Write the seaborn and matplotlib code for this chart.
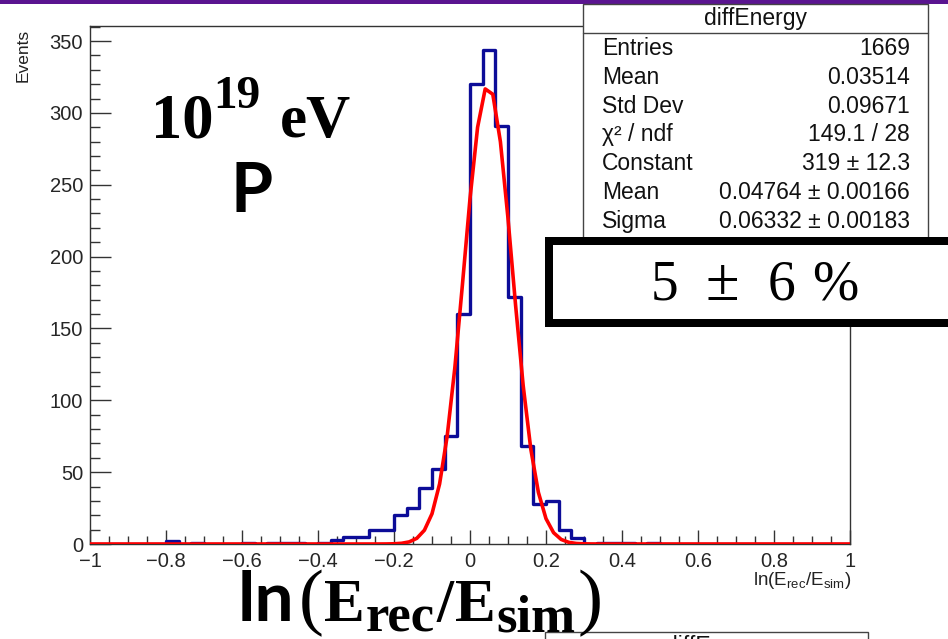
import numpy as np
import pandas as pd
import matplotlib
matplotlib.use("Agg")
import matplotlib.pyplot as plt
import seaborn as sns
from matplotlib.patches import Rectangle
from matplotlib.lines import Line2D
from matplotlib.ticker import MultipleLocator, FixedLocator, FixedFormatter

# ---------------- data ----------------
x_range = (-1.0, 1.0)
n_bins = 60
counts = [0, 0, 0, 0, 0, 0, 2, 0, 1, 0,
          0, 0, 1, 0, 1, 1, 1, 0, 1, 3,
          5, 5, 10, 10, 20, 25, 39, 52, 75, 160,
          320, 344, 291, 172, 68, 28, 30, 10, 4, 0,
          1, 1, 1, 0, 1, 0, 0, 0, 0, 0,
          0, 0, 0, 0, 0, 0, 0, 0, 0, 0]

fit_constant = 319.0
fit_mean = 0.04764
fit_sigma = 0.06332
fit_npx = 100

xtick_vals = [-1, -0.8, -0.6, -0.4, -0.2, 0, 0.2, 0.4, 0.6, 0.8, 1]
xtick_labels = ["\u22121", "\u22120.8", "\u22120.6", "\u22120.4", "\u22120.2",
                "0", "0.2", "0.4", "0.6", "0.8", "1"]
ytick_vals = [0, 50, 100, 150, 200, 250, 300, 350]

stats_title = "diffEnergy"
stat_labels = ["Entries", "Mean", "Std Dev", "\u03c7\u00b2 / ndf", "Constant", "Mean", "Sigma"]
stat_values = ["1669", "0.03514", "0.09671", "149.1 / 28", "319 \u00b1 12.3",
               "0.04764 \u00b1 0.00166", "0.06332 \u00b1 0.00183"]

resolution_parts = ["5", "\u00b1", "6", "%"]

# ---------------- style ----------------
sns.set_theme(style="white")
plt.rcParams["font.family"] = ["Liberation Sans", "DejaVu Sans"]
plt.rcParams["mathtext.fontset"] = "custom"
plt.rcParams["mathtext.rm"] = "Liberation Sans"
plt.rcParams["mathtext.it"] = "Liberation Sans:italic"
plt.rcParams["mathtext.bf"] = "Liberation Sans:bold"

W, H = 948, 639
fig = plt.figure(figsize=(W / 100, H / 100), dpi=100)
fig.patch.set_facecolor("white")

def fx(px):
    return px / W

def fy(py):
    return 1 - py / H

ax_l, ax_r, ax_t, ax_b = 90, 850, 26, 544
ax = fig.add_axes([fx(ax_l), fy(ax_b), (ax_r - ax_l) / W, (ax_b - ax_t) / H])
ax.set_facecolor("white")

bin_w = (x_range[1] - x_range[0]) / n_bins
centers = x_range[0] + bin_w * (np.arange(n_bins) + 0.5)
df = pd.DataFrame({"x": centers, "w": np.asarray(counts, dtype=float)})
sns.histplot(data=df, x="x", weights="w", bins=n_bins, binrange=x_range,
             element="step", fill=False, color="#0c0c98", linewidth=2.4, ax=ax, zorder=2)

fit_x = np.linspace(x_range[0], x_range[1], fit_npx + 1)
fit_y = fit_constant * np.exp(-0.5 * ((fit_x - fit_mean) / fit_sigma) ** 2)
sns.lineplot(x=fit_x, y=fit_y, color="#ff0000", linewidth=2.6, ax=ax, sort=False, zorder=3)

ax.set_xlim(x_range)
ax.set_ylim(0, (ax_b - ax_t) / 1.437)
ax.set_xlabel("")
ax.set_ylabel("")

ax.xaxis.set_major_locator(FixedLocator(xtick_vals))
ax.xaxis.set_major_formatter(FixedFormatter(xtick_labels))
ax.xaxis.set_minor_locator(MultipleLocator(0.05))
ax.yaxis.set_major_locator(FixedLocator(ytick_vals))
ax.yaxis.set_minor_locator(MultipleLocator(10))

ax.tick_params(axis="x", which="major", direction="in", length=10, width=1.0,
               color="#333333", labelsize=14.5, pad=6, bottom=True, top=False)
ax.tick_params(axis="x", which="minor", direction="in", length=5.5, width=1.0,
               color="#333333", bottom=True, top=False)
ax.tick_params(axis="y", which="major", direction="in", length=15, width=1.0,
               color="#333333", labelsize=14.5, pad=5, left=True, right=False)
ax.tick_params(axis="y", which="minor", direction="in", length=7.5, width=1.0,
               color="#333333", left=True, right=False)
for s in ax.spines.values():
    s.set_visible(True)
    s.set_color("#333333")
    s.set_linewidth(1.0)

# axis titles (ROOT style)
fig.text(fx(23), fy(55), "Events", rotation=90, ha="center", va="center", fontsize=12.5,
         color="#222222")
fig.text(fx(851), fy(585), r"ln(E$_{\mathrm{rec}}$/E$_{\mathrm{sim}}$)", ha="right",
         va="baseline", fontsize=13.5, color="#222222")

# purple bar on top
fig.add_artist(Rectangle((0, fy(3.5)), 1, 3.5 / H, transform=fig.transFigure,
                         facecolor="#5a1490", edgecolor="none", zorder=5))

# stats box
sb_l, sb_r, sb_t, sb_b = 583, 928, 3.5, 245
fig.add_artist(Rectangle((fx(sb_l), fy(sb_b)), (sb_r - sb_l) / W, (sb_b - sb_t) / H,
                         transform=fig.transFigure, facecolor="white",
                         edgecolor="#444444", linewidth=1.0, zorder=6))
fig.add_artist(Line2D([fx(sb_l), fx(sb_r)], [fy(33), fy(33)], transform=fig.transFigure,
                      color="#444444", linewidth=1.0, zorder=7))
fig.text(fx((sb_l + sb_r) / 2), fy(25.5), stats_title, ha="center", va="baseline",
         fontsize=16.5, color="#111111", zorder=8)
for i, (lab, val) in enumerate(zip(stat_labels, stat_values)):
    yb = 55 + 28.8 * i
    fig.text(fx(602), fy(yb), lab, ha="left", va="baseline", fontsize=16.5,
             color="#111111", zorder=8)
    fig.text(fx(910), fy(yb), val, ha="right", va="baseline", fontsize=16.5,
             color="#111111", zorder=8)

# big annotation box "5 ± 6 %"
serif = ["Liberation Serif", "DejaVu Serif"]
bw = 8
fig.add_artist(Rectangle((fx(545 + bw / 2), fy(327 - bw / 2)), (1000 - 545) / W,
                         (327 - 237 - bw) / H, transform=fig.transFigure,
                         facecolor="white", edgecolor="black", linewidth=bw * 0.72,
                         zorder=9))
for part, cx, fs in zip(resolution_parts, [664, 722, 782, 835], [40, 44, 40, 40]):
    fig.text(fx(cx), fy(300), part, ha="center", va="baseline", fontsize=fs,
             family=serif, color="black", zorder=10)

# "10^19 eV" and "P"
fig.text(fx(151), fy(137), "10", ha="left", va="baseline", fontsize=45,
         weight="bold", family=serif, color="black", zorder=10)
fig.text(fx(213), fy(108), "19", ha="left", va="baseline", fontsize=34,
         weight="bold", family=serif, color="black", zorder=10)
fig.text(fx(280), fy(137), "eV", ha="left", va="baseline", fontsize=44,
         weight="bold", family=serif, color="black", zorder=10)
fig.text(fx(252), fy(212), "P", ha="center", va="baseline", fontsize=49,
         weight="bold", family=["Lato", "DejaVu Sans"], color="black", zorder=10)

# big x title ln(E_rec/E_sim), pieces laid out one after another
fig.text(fx(238), fy(621), "ln", ha="left", va="baseline", fontsize=50,
         weight="bold", family=["Lato", "DejaVu Sans"], color="black", zorder=10)
pieces = [("(", 621, 54, "normal", 0), ("E", 621, 44, "bold", 1),
          ("rec", 631, 38, "bold", 2), ("/", 621, 44, "bold", 1),
          ("E", 621, 44, "bold", 1), ("sim", 631, 38, "bold", 2),
          (")", 621, 54, "normal", 0)]
renderer = fig.canvas.get_renderer()
cursor = 299.0
for s, py, fs, wt, gap in pieces:
    t = fig.text(fx(cursor), fy(py), s, ha="left", va="baseline", fontsize=fs,
                 weight=wt, family=serif, color="black", zorder=10)
    bb = t.get_window_extent(renderer=renderer)
    cursor += bb.width + gap

# second stats box peeking at bottom
fig.add_artist(Rectangle((fx(545), fy(700)), (868 - 545) / W, (700 - 632) / H,
                         transform=fig.transFigure, facecolor="white",
                         edgecolor="#444444", linewidth=1.0, zorder=4))
fig.text(fx(716), fy(635), stats_title, ha="center", va="top", fontsize=16.5,
         color="#111111", zorder=4.5)

fig.savefig("out.png", dpi=100)
